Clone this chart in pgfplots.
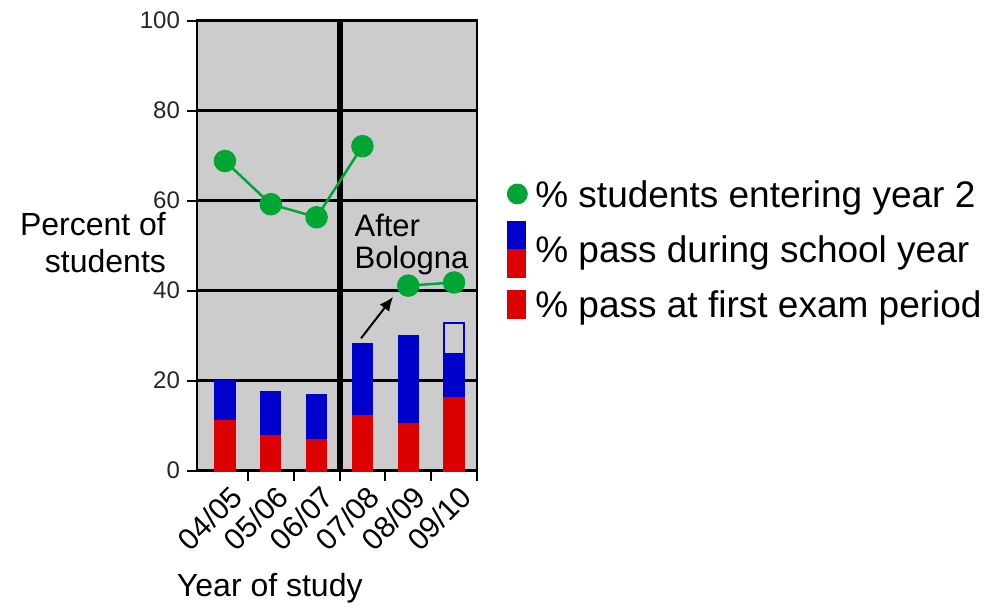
\documentclass[border=0pt]{standalone}
\usepackage{fontspec}
\setmainfont{Liberation Sans}
\usepackage{pgfplots}
\pgfplotsset{compat=1.18}
\usetikzlibrary{arrows.meta}
\definecolor{barred}{RGB}{220,0,0}
\definecolor{barblue}{RGB}{0,0,204}
\definecolor{dotgreen}{RGB}{0,166,51}
\definecolor{bggray}{RGB}{204,204,204}

\begin{document}
\begin{tikzpicture}
\begin{axis}[
    name=ax,
    scale only axis,
    width=140pt, height=224.9pt,
    xmin=-0.61, xmax=5.5,
    ymin=0, ymax=100,
    clip=false,
    axis background/.style={fill=bggray},
    axis line style={black, line width=1.3pt},
    xtick={0.5,1.5,2.5,3.5,4.5,5.5},
    xticklabels={04/05,05/06,06/07,07/08,08/09,09/10},
    ytick={0,20,40,60,80,100},
    xtick pos=lower, ytick pos=left,
    xtick align=outside, ytick align=center,
    major tick length=10pt,
    xtick style={/pgfplots/major tick length=5pt},
    major tick style={black, line width=1pt},
    ymajorgrids,
    major grid style={black, line width=1.3pt},
    /pgf/number format/assume math mode=true,
    yticklabel style={font=\fontsize{12}{14}\selectfont, text=black!85},
    xticklabel style={font=\fontsize{15}{17}\selectfont, anchor=north east,
        xshift=-9.6pt, yshift=8.3pt, rotate=45},
    xlabel={Year of study},
    xlabel style={at={(axis description cs:0.26,0)}, anchor=north, yshift=-48pt,
        font=\fontsize{16}{19}\selectfont},
    every axis y label/.style={at={(axis description cs:0,0.506)}, anchor=east,
        align=right, xshift=-12pt, font=\fontsize{16}{18.5}\selectfont},
    ylabel={Percent of\\students},
    legend style={at={(axis description cs:1.107,0.4925)}, anchor=west,
        draw=none, fill=none, inner sep=0pt, column sep=4pt,
        font=\fontsize{18.5}{22}\selectfont,
        nodes={inner sep=0pt, text height=20.35pt, text depth=7.15pt}},
    legend cell align=left,
]
% legend entries
\addlegendimage{legend image code/.code={
    \path[draw=none] (0pt,0pt) rectangle (10pt,0pt);
    \fill[dotgreen, overlay] (5pt,0pt) circle (5pt);}}
\addlegendentry{\% students entering year 2}
\addlegendimage{legend image code/.code={
    \path[draw=none] (0pt,0pt) rectangle (10pt,0pt);
    \fill[barblue, overlay] (0pt,0pt) rectangle (9pt,14pt);
    \fill[barred, overlay] (0pt,-14pt) rectangle (9pt,0pt);}}
\addlegendentry{\% pass during school year}
\addlegendimage{legend image code/.code={
    \path[draw=none] (0pt,0pt) rectangle (10pt,0pt);
    \fill[barred, overlay] (0pt,-7pt) rectangle (9pt,7pt);}}
\addlegendentry{\% pass at first exam period}

% outlined part of the last bar
\addplot[ybar, bar width=0.42, bar shift=0pt, fill=bggray, draw=barblue,
    line width=1pt, forget plot] coordinates {(5,32.8)};
% pass during school year (total height)
\addplot[ybar, bar width=0.42, bar shift=0pt, fill=barblue, draw=barblue,
    line width=1pt, forget plot] coordinates {
    (0,19.8) (1,17.5) (2,16.7) (3,28.2) (4,29.8) (5,25.8)};
% pass at first exam period
\addplot[ybar, bar width=0.42, bar shift=0pt, fill=barred, draw=barred,
    line width=1pt, forget plot] coordinates {
    (0,11.0) (1,7.6) (2,6.7) (3,12.2) (4,10.4) (5,16.1)};

\draw[black, line width=3pt] (axis cs:2.5,0) -- (axis cs:2.5,100);

% students entering year 2
\addplot[dotgreen, line width=1.25pt, mark=*, mark size=5pt,
    mark options={fill=dotgreen, draw=dotgreen}, forget plot] coordinates {
    (0,68.8) (1,59.2) (2,56.3) (3,72.1)};
\addplot[dotgreen, line width=1.25pt, mark=*, mark size=5pt,
    mark options={fill=dotgreen, draw=dotgreen}, forget plot] coordinates {
    (4,41.1) (5,41.8)};

\draw[-{Latex[length=7pt,width=6pt]}, line width=1pt]
    (axis cs:2.97,29.4) -- (axis cs:3.67,38.6);
\node[anchor=north west, align=left, inner sep=0pt,
    font=\fontsize{15.5}{16}\selectfont] at (axis cs:2.82,57.2) {After\\Bologna};
\end{axis}
\path ([shift={(-98.5pt,-66.75pt)}]ax.south west)
    rectangle ([shift={(394.5pt,235.25pt)}]ax.south west);
\end{tikzpicture}
\end{document}
